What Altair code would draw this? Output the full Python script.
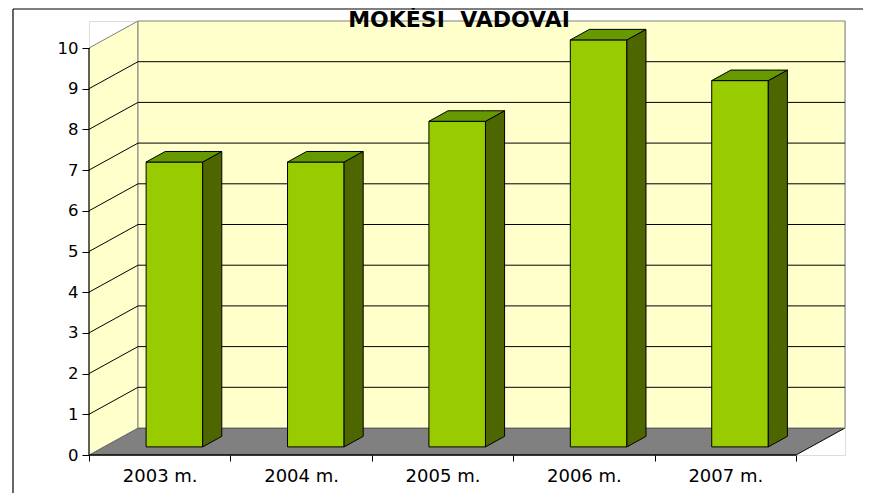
import json
import altair as alt
import pandas as pd

# ---------------- data ----------------
categories = ["2003 m.", "2004 m.", "2005 m.", "2006 m.", "2007 m."]
values = [7, 7, 8, 10, 9]
y_ticks = list(range(0, 11))
title_text = "MOKĖSI\u00a0 VADOVAI"

# ---------------- 3-D box style (data units) ----------------
N = len(categories)
YMAX = max(y_ticks)
DX = 0.3465          # depth shift along x
DY = 0.6634          # depth shift along y
F0, F1 = 0.30, 0.69  # bar front / back depth fraction
GAP = 0.30           # gap on each side of a bar within its category
W, H = 756, 434

WALL = "#FFFFCC"
FLOOR = "#808080"
EDGE = "#808080"
FRONT = "#99CC00"
TOP = "#669900"
SIDE = "#4D6600"
FONT = "DejaVu Sans"

xs = alt.Scale(domain=[0, N + DX], nice=False, zero=False)
ys = alt.Scale(domain=[0, YMAX + DY], nice=False, zero=False)

label_expr = f"datum.value < {N} ? {json.dumps(categories, ensure_ascii=False)}[datum.value] : ''"
x_axis = alt.Axis(values=list(range(N + 1)), labelExpr=label_expr, labelOffset=W / (N + DX) / 2,
                  labelFlush=False, labelOverlap=False, domain=False, grid=False, title=None,
                  tickSize=6, tickColor="black", labelPadding=6, labelFont=FONT, labelFontSize=18,
                  labelColor="black", zindex=1)
y_axis = alt.Axis(values=y_ticks, domain=False, grid=False, title=None, tickSize=7,
                  tickColor="black", labelPadding=4, labelFont=FONT, labelFontSize=16.5,
                  labelColor="black", zindex=1)


def X(f):
    return alt.X(f, type="quantitative", scale=xs, axis=x_axis)


def Y(f):
    return alt.Y(f, type="quantitative", scale=ys, axis=y_axis, stack=False)


# ---------------- tables ----------------
floor_df = pd.DataFrame({"x": [0, DX, N, N + DX], "lo": [0, 0, 0, DY], "hi": [0, DY, DY, DY]})
left_df = pd.DataFrame({"x": [0, DX], "lo": [0, DY], "hi": [YMAX, YMAX + DY]})
back_df = pd.DataFrame({"x0": [DX], "x1": [N + DX], "y0": [DY], "y1": [YMAX + DY]})
grid_back = pd.DataFrame({"x0": DX, "x1": N + DX, "y": [t + DY for t in y_ticks[1:-1]]})
grid_left = pd.DataFrame({"x0": 0.0, "x1": DX, "y0": y_ticks[1:-1], "y1": [t + DY for t in y_ticks[1:-1]]})
axis_lines = pd.DataFrame({"x0": [0, 0], "x1": [0, N], "y0": [0, 0], "y1": [YMAX, 0]})

bdx = (F1 - F0) * DX
front_rows, side_rows, top_rows = [], [], []
for i, (c, v) in enumerate(zip(categories, values)):
    x0 = i + GAP + F0 * DX
    x1 = i + 1 - GAP + F0 * DX
    front_rows.append({"id": c, "x0": x0, "x1": x1, "y0": F0 * DY, "y1": v + F0 * DY})
    side_rows += [{"id": c, "x": x1, "lo": F0 * DY, "hi": v + F0 * DY},
                  {"id": c, "x": x1 + bdx, "lo": F1 * DY, "hi": v + F1 * DY}]
    top_rows += [{"id": c, "x": x0, "lo": v + F0 * DY, "hi": v + F0 * DY},
                 {"id": c, "x": x0 + bdx, "lo": v + F0 * DY, "hi": v + F1 * DY},
                 {"id": c, "x": x1, "lo": v + F0 * DY, "hi": v + F1 * DY},
                 {"id": c, "x": x1 + bdx, "lo": v + F1 * DY, "hi": v + F1 * DY}]
front_df = pd.DataFrame(front_rows)
side_df = pd.DataFrame(side_rows)
top_df = pd.DataFrame(top_rows)

# ---------------- layers ----------------
one = pd.DataFrame({"k": [0]})
frame_left = alt.Chart(one).mark_rule(color="black", strokeWidth=1.2).encode(
    x=alt.value(-76), y=alt.value(-12), y2=alt.value(480))
frame_top = alt.Chart(one).mark_rule(color="black", strokeWidth=1.2).encode(
    x=alt.value(-76), x2=alt.value(800), y=alt.value(-12))

floor = alt.Chart(floor_df).mark_area(color=FLOOR, stroke="black", strokeWidth=1, opacity=1).encode(
    x=X("x"), y=Y("lo"), y2="hi")
left_wall = alt.Chart(left_df).mark_area(color=WALL, stroke=EDGE, strokeWidth=1, opacity=1).encode(
    x=X("x"), y=Y("lo"), y2="hi")
back_wall = alt.Chart(back_df).mark_rect(fill=WALL, stroke=EDGE, strokeWidth=1).encode(
    x=X("x0"), x2="x1", y=Y("y0"), y2="y1")
g_back = alt.Chart(grid_back).mark_rule(color="black", strokeWidth=1).encode(
    x=X("x0"), x2="x1", y=Y("y"))
g_left = alt.Chart(grid_left).mark_rule(color="black", strokeWidth=1).encode(
    x=X("x0"), x2="x1", y=Y("y0"), y2="y1")
a_lines = alt.Chart(axis_lines).mark_rule(color="black", strokeWidth=1).encode(
    x=X("x0"), x2="x1", y=Y("y0"), y2="y1")

front = alt.Chart(front_df).mark_rect(fill=FRONT, stroke="black", strokeWidth=1).encode(
    x=X("x0"), x2="x1", y=Y("y0"), y2="y1")
side = alt.Chart(side_df).mark_area(color=SIDE, stroke="black", strokeWidth=1, opacity=1).encode(
    x=X("x"), y=Y("lo"), y2="hi", detail="id:N")
top = alt.Chart(top_df).mark_area(color=TOP, stroke="black", strokeWidth=1, opacity=1).encode(
    x=X("x"), y=Y("lo"), y2="hi", detail="id:N")

title = alt.Chart(one).mark_text(font=FONT, fontSize=22, fontWeight="bold", color="black",
                                 align="center", baseline="alphabetic").encode(
    x=alt.value(W / 2 - 8), y=alt.value(6), text=alt.value(title_text))

chart = alt.layer(frame_left, frame_top, floor, left_wall, back_wall, g_back, g_left, a_lines,
                  front, side, top, title).properties(
    width=W, height=H,
    autosize=alt.AutoSizeParams(type="none"),
    padding={"left": 81, "top": 13, "right": 18, "bottom": 38},
).configure_view(strokeWidth=0).configure(background="white")

chart.save("out.html", embed_options={"renderer": "svg", "actions": False})
